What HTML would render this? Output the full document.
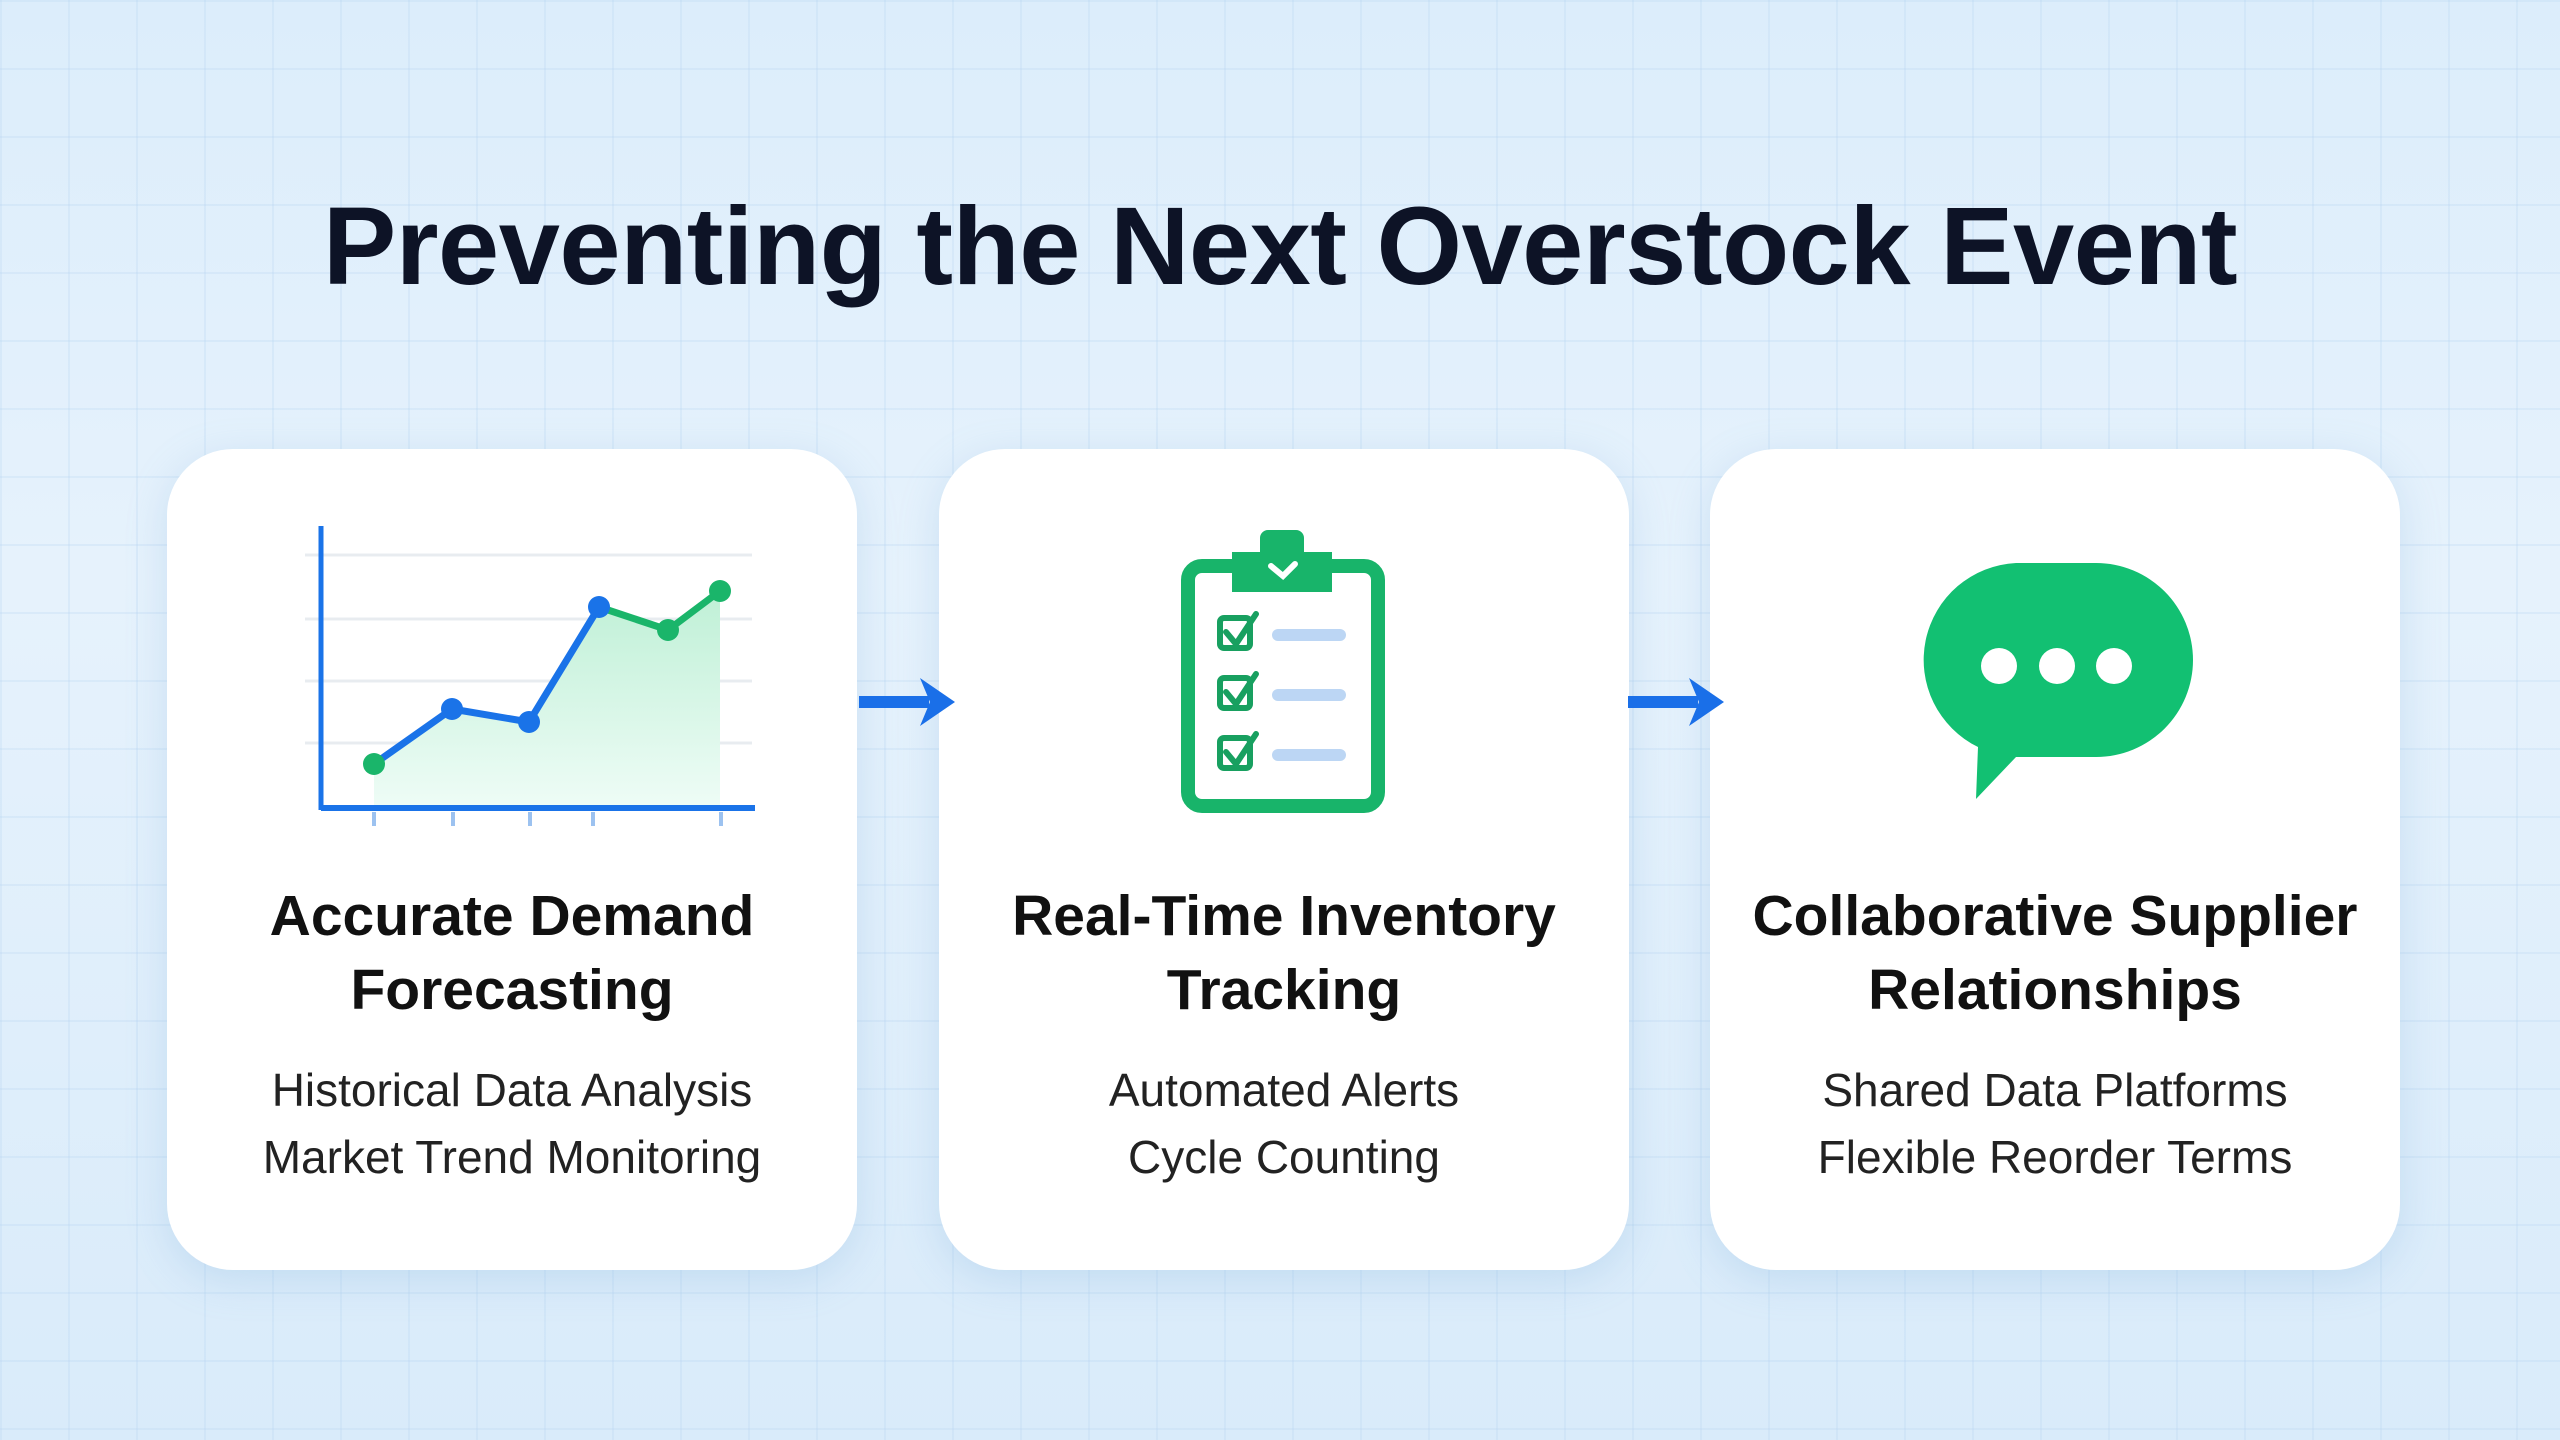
<!DOCTYPE html>
<html><head><meta charset="utf-8"><style>
html,body{margin:0;padding:0}
body{width:2560px;height:1440px;position:relative;overflow:hidden;font-family:"Liberation Sans",sans-serif;
background:linear-gradient(180deg,#dcedfb 0%,#e6f2fc 40%,#d9ebfa 100%);}
.grid{position:absolute;inset:0;background-image:linear-gradient(rgba(180,210,240,.25) 2px,transparent 2px),linear-gradient(90deg,rgba(180,210,240,.25) 2px,transparent 2px);background-size:68px 68px;}
h1{position:absolute;top:183px;left:0;width:2560px;text-align:center;margin:0;font-size:110px;font-weight:bold;color:#0d1326;letter-spacing:-0.5px}
.card{position:absolute;top:449px;width:690px;height:821px;background:#fff;border-radius:66px;box-shadow:0 10px 40px rgba(120,170,220,.25);text-align:center}
.t{position:absolute;top:430px;left:0;width:100%;font-size:57px;font-weight:bold;color:#111;line-height:74px}
.s{position:absolute;top:608px;left:0;width:100%;font-size:46px;color:#222;line-height:67px}
svg{position:absolute;left:0;top:0}
</style></head><body>
<div class="grid"></div>
<h1>Preventing the Next Overstock Event</h1>
<div class="card" style="left:167px"><div class="t">Accurate Demand<br>Forecasting</div><div class="s">Historical Data Analysis<br>Market Trend Monitoring</div></div>
<div class="card" style="left:939px"><div class="t">Real-Time Inventory<br>Tracking</div><div class="s">Automated Alerts<br>Cycle Counting</div></div>
<div class="card" style="left:1710px"><div class="t">Collaborative Supplier<br>Relationships</div><div class="s">Shared Data Platforms<br>Flexible Reorder Terms</div></div>
<svg width="2560" height="1440">
<defs><linearGradient id="g" x1="0" y1="0" x2="0" y2="1"><stop offset="0" stop-color="#bff0d6"/><stop offset="1" stop-color="#eefcf6"/></linearGradient></defs>
<g stroke="#e8ecf0" stroke-width="3"><line x1="305" y1="555" x2="752" y2="555"/><line x1="305" y1="619" x2="752" y2="619"/><line x1="305" y1="681" x2="752" y2="681"/><line x1="305" y1="743" x2="752" y2="743"/></g>
<polygon points="374,764 452,709 529,722 599,607 668,630 720,591 720,806 374,806" fill="url(#g)"/>
<line x1="321" y1="526" x2="321" y2="810" stroke="#1a73e8" stroke-width="5"/>
<line x1="321" y1="808" x2="755" y2="808" stroke="#1a73e8" stroke-width="6"/>
<g stroke="#9cc2f0" stroke-width="4"><line x1="374" y1="812" x2="374" y2="826"/><line x1="453" y1="812" x2="453" y2="826"/><line x1="530" y1="812" x2="530" y2="826"/><line x1="593" y1="812" x2="593" y2="826"/><line x1="721" y1="812" x2="721" y2="826"/></g>
<polyline points="374,764 452,709 529,722 599,607" fill="none" stroke="#1a73e8" stroke-width="7"/>
<polyline points="599,607 668,630 720,591" fill="none" stroke="#1ab56a" stroke-width="7"/>
<circle cx="374" cy="764" r="11" fill="#1ab56a"/><circle cx="452" cy="709" r="11" fill="#1a73e8"/><circle cx="529" cy="722" r="11" fill="#1a73e8"/><circle cx="599" cy="607" r="11" fill="#1a73e8"/><circle cx="668" cy="630" r="11" fill="#1ab56a"/><circle cx="720" cy="591" r="11" fill="#1ab56a"/>
<g fill="#1a6fe8"><rect x="859" y="696" width="70" height="12"/><polygon points="920,678 955,702 920,726 930,702"/>
<rect x="1628" y="696" width="70" height="12"/><polygon points="1689,678 1724,702 1689,726 1699,702"/></g>
<rect x="1188" y="566" width="190" height="240" rx="14" fill="none" stroke="#18b46a" stroke-width="14"/>
<path d="M1232 566 v-14 h28 v-14 a8 8 0 0 1 8-8 h28 a8 8 0 0 1 8 8 v14 h28 v40 h-100z" fill="#18b46a"/>
<path d="M1271 566 l12 10 l12 -12" fill="none" stroke="#fff" stroke-width="6" stroke-linecap="round"/>
<g fill="none" stroke="#18a060" stroke-width="6" stroke-linecap="round">
<rect x="1220" y="618" width="30" height="30" rx="4"/><path d="M1226 632 l10 12 l20 -30"/>
<rect x="1220" y="678" width="30" height="30" rx="4"/><path d="M1226 692 l10 12 l20 -30"/>
<rect x="1220" y="738" width="30" height="30" rx="4"/><path d="M1226 752 l10 12 l20 -30"/></g>
<g stroke="#bcd6f4" stroke-width="12" stroke-linecap="round"><line x1="1278" y1="635" x2="1340" y2="635"/><line x1="1278" y1="695" x2="1340" y2="695"/><line x1="1278" y1="755" x2="1340" y2="755"/></g>
<path d="M2016 563 h80 a97 97 0 0 1 0 194 h-80 l-40 42 l2 -52 a97 97 0 0 1 38 -184z" fill="#12c072"/>
<circle cx="1999" cy="666" r="18" fill="#fff"/><circle cx="2057" cy="666" r="18" fill="#fff"/><circle cx="2114" cy="666" r="18" fill="#fff"/>
</svg>
</body></html>
